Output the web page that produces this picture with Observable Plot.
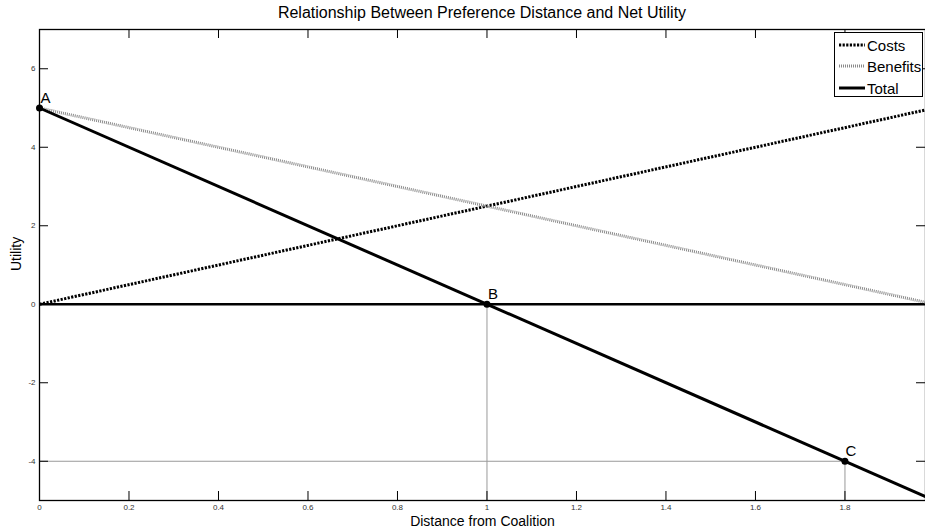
<!DOCTYPE html>
<html>
<head>
<meta charset="utf-8">
<script src="https://cdn.jsdelivr.net/npm/d3@7"></script>
<script src="https://cdn.jsdelivr.net/npm/@observablehq/plot@0.6"></script>
<style>
  body { margin: 0; background: #fff; font-family: "Liberation Sans", Arial, sans-serif; }
  #wrap { position: relative; width: 925px; height: 531px; overflow: hidden; }
  #title { height: 28px; line-height: 25px; font-size: 16px; text-align: center; padding-left: 39px; box-sizing: border-box; color: #000; }
  #legend { position: absolute; left: 834px; top: 32px; width: 89px; height: 65px; border: 1px solid #000; background: #fff; box-sizing: border-box; }
  .lg { position: absolute; left: 4px; height: 20px; display: flex; align-items: center; font-size: 15px; color: #000; }
  .lg svg { margin-right: 2px; }
</style>
</head>
<body>
<div id="wrap">
  <div id="title">Relationship Between Preference Distance and Net Utility</div>
  <div id="chart"></div>
  <div id="legend"></div>
</div>
<script>
// Data
const distance = [0, 1.98];
const costs = [0, 4.95];
const benefits = [5, 0.05];
const total = [5, -4.9];

const pointLabels = ["A", "B", "C"];
const pointX = [0, 1, 1.8];
const pointY = [5, 0, -4];

const xTicks = [0, 0.2, 0.4, 0.6, 0.8, 1, 1.2, 1.4, 1.6, 1.8];
const yTicks = [-4, -2, 0, 2, 4, 6];

const seriesNames = ["Costs", "Benefits", "Total"];

const xDomain = [0, 1.98];
const yDomain = [-5, 7];

// Build tables
const rows = [];
distance.forEach((d, i) => {
  rows.push({x: d, y: costs[i], s: "Costs"});
  rows.push({x: d, y: benefits[i], s: "Benefits"});
  rows.push({x: d, y: total[i], s: "Total"});
});
const pts = pointLabels.map((l, i) => ({label: l, x: pointX[i], y: pointY[i]}));
const guidePts = pts.filter(p => p.label !== "A");
const cPt = pts.filter(p => p.label === "C");

const W = 925, H = 503;
const mT = 1, mB = 31, mL = 39, mR = 0;
const plotH = H - mT - mB;
const plotW = W - mL - mR;
const tk = 9;
const fmt = d => String(d);

const styles = {
  Costs: {stroke: "#000", strokeWidth: 3, dash: "2.2,1.4"},
  Benefits: {stroke: "#8a8a8a", strokeWidth: 3, dash: "1,1"},
  Total: {stroke: "#000", strokeWidth: 3, dash: null}
};

const chart = Plot.plot({
  width: W,
  height: H,
  marginTop: mT,
  marginBottom: mB,
  marginLeft: mL,
  marginRight: mR,
  style: {fontFamily: "Liberation Sans, Arial, sans-serif", background: "#fff", overflow: "visible"},
  x: {domain: xDomain},
  y: {domain: yDomain},
  marks: [
    // guide lines
    Plot.ruleX(guidePts, {x: "x", y1: yDomain[0], y2: "y", stroke: "#999", strokeWidth: 1}),
    Plot.ruleY(cPt, {y: "y", x1: xDomain[0], x2: "x", stroke: "#999", strokeWidth: 1}),
    // inward ticks
    Plot.ruleX(xTicks, {x: d => d, insetTop: plotH - tk, stroke: "#000", strokeWidth: 1}),
    Plot.ruleX(xTicks, {x: d => d, insetBottom: plotH - tk, stroke: "#000", strokeWidth: 1}),
    Plot.ruleY(yTicks, {y: d => d, insetRight: plotW - tk, stroke: "#000", strokeWidth: 1}),
    Plot.ruleY(yTicks, {y: d => d, insetLeft: plotW - tk, stroke: "#000", strokeWidth: 1}),
    // zero line
    Plot.ruleY([0], {stroke: "#000", strokeWidth: 2.5}),
    // series
    ...seriesNames.map(s => Plot.line(rows.filter(r => r.s === s), {
      x: "x", y: "y",
      stroke: styles[s].stroke,
      strokeWidth: styles[s].strokeWidth,
      strokeDasharray: styles[s].dash,
      strokeLinecap: "butt"
    })),
    // points
    Plot.dot(pts, {x: "x", y: "y", r: 3.5, fill: "#000"}),
    Plot.text(pts, {x: "x", y: "y", text: "label", dx: 6, dy: -10, fontSize: 15, fill: "#000"}),
    // frame
    Plot.frame({stroke: "#000", strokeWidth: 1.3}),
    // axes
    Plot.axisX(xTicks, {tickSize: 0, tickPadding: 4, fontSize: 8, fill: "#333", label: null, tickFormat: fmt}),
    Plot.axisY(yTicks, {tickSize: 0, tickPadding: 4, fontSize: 8, fill: "#333", label: null, tickFormat: fmt}),
    // axis labels
    Plot.text(["Distance from Coalition"], {frameAnchor: "bottom", dy: 25, fontSize: 14, fill: "#000"}),
    Plot.text(["Utility"], {frameAnchor: "left", dx: -23, dy: 6, rotate: -90, fontSize: 14, fill: "#000"})
  ]
});
document.getElementById("chart").appendChild(chart);

// Legend
const legend = document.getElementById("legend");
const legTops = [2, 23, 45];
seriesNames.forEach((s, i) => {
  const st = styles[s];
  const div = document.createElement("div");
  div.className = "lg";
  div.style.top = legTops[i] + "px";
  div.innerHTML = `<svg width="26" height="6"><line x1="0" y1="3" x2="26" y2="3" stroke="${st.stroke}" stroke-width="${st.strokeWidth}" ${st.dash ? `stroke-dasharray="${st.dash}"` : ""}/></svg><span>${s}</span>`;
  legend.appendChild(div);
});
</script>
</body>
</html>
